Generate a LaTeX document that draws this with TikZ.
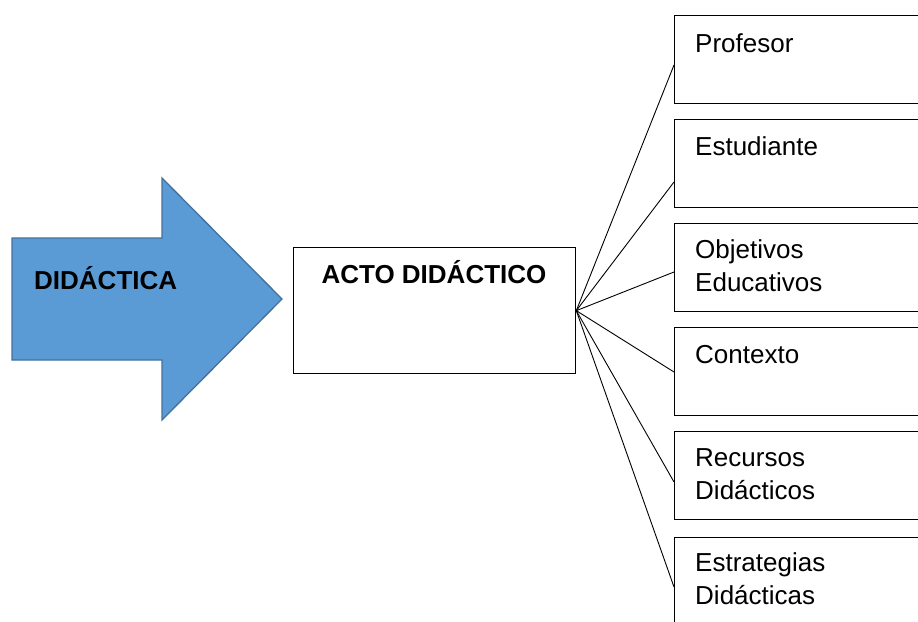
\documentclass[tikz,border=0pt]{standalone}
\usepackage{fontspec}
\setmainfont{Liberation Sans}
\usetikzlibrary{calc}
\definecolor{arrowfill}{HTML}{5B9BD5}
\definecolor{arrowline}{HTML}{41719C}
\tikzset{
  box/.style={draw=black, line width=1.3pt, fill=white, rectangle, inner sep=0pt, anchor=north west},
  itembox/.style={box, minimum width=260pt, minimum height=88pt},
  txt/.style={font=\fontsize{26}{33}\selectfont, inner sep=0pt, align=left, anchor=base west},
  btxt/.style={font=\fontsize{26}{33}\selectfont\bfseries, inner sep=0pt},
  link/.style={draw=black, line width=0.9pt},
}
\begin{document}
\begin{tikzpicture}[x=1pt,y=-1pt]
\useasboundingbox (0,0) rectangle (918,621);
% big arrow
\draw[fill=arrowfill, draw=arrowline, line width=1.3pt, line join=miter]
  (12,238) -- (162,238) -- (162,178) -- (282,299) -- (162,420) -- (162,360) -- (12,360) -- cycle;
\node[btxt, anchor=base west] (didactica) at (34,289) {DIDÁCTICA};
% central box
\node[box, minimum width=282pt, minimum height=126pt] (acto) at (293,247) {};
\node[btxt, anchor=base] (actotxt) at (434,283) {ACTO DIDÁCTICO};
% right boxes
\node[itembox] (b1) at (674,15) {};
\node[itembox] (b2) at (674,119) {};
\node[itembox] (b3) at (674,223) {};
\node[itembox] (b4) at (674,327) {};
\node[itembox] (b5) at (674,431) {};
\node[itembox] (b6) at (674,537) {};
% (base anchor of a two-line node is the baseline of its last line)
\node[txt] (t1) at ($(b1.north west)+(21,37)$) {Profesor};
\node[txt] (t2) at ($(b2.north west)+(21,36)$) {Estudiante};
\node[txt] (t3) at ($(b3.north west)+(21,68)$) {Objetivos\\Educativos};
\node[txt] (t4) at ($(b4.north west)+(21,36)$) {Contexto};
\node[txt] (t5) at ($(b5.north west)+(21,68)$) {Recursos\\Didácticos};
\node[txt] (t6) at ($(b6.north west)+(21,67)$) {Estrategias\\Didácticas};
% connectors
\coordinate (hub) at (acto.east);
\draw[link] (hub) -- ($(b1.north west)+(0,50)$);
\draw[link] (hub) -- ($(b2.north west)+(0,63)$);
\draw[link] (hub) -- ($(b3.north west)+(0,49)$);
\draw[link] (hub) -- ($(b4.north west)+(0,45)$);
\draw[link] (hub) -- ($(b5.north west)+(0,51)$);
\draw[link] (hub) -- ($(b6.north west)+(0,50)$);
\end{tikzpicture}
\end{document}
